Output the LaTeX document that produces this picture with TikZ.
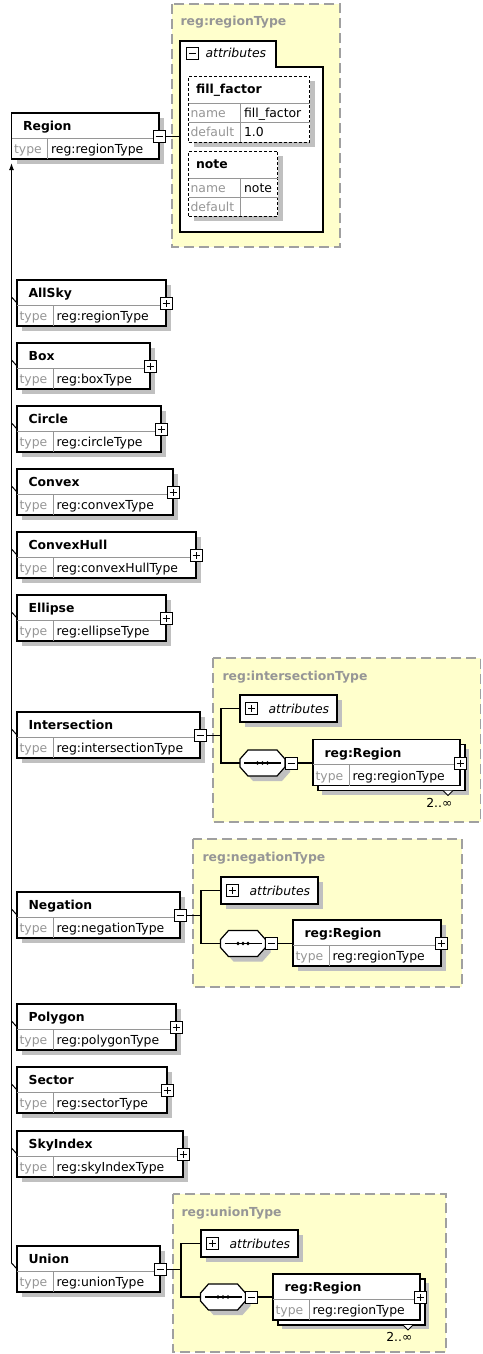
\documentclass[tikz,border=0pt]{standalone}
\usepackage{fontspec}
\setmainfont{DejaVu Sans}
\usetikzlibrary{arrows.meta,shadows}

\definecolor{typefill}{RGB}{255,255,204}
\definecolor{typeline}{RGB}{160,160,160}
\definecolor{shadowgray}{RGB}{192,192,192}
\definecolor{labelgray}{RGB}{150,150,150}
\definecolor{rowgray}{RGB}{150,150,150}

\tikzset{
  txt/.style={inner sep=0pt, anchor=base west, font=\fontsize{12.4}{14}\selectfont},
  ttl/.style={txt, font=\fontsize{12.4}{14}\selectfont\bfseries},
  lbl/.style={txt, text=labelgray},
  attl/.style={txt, font=\fontsize{12.4}{14}\selectfont\itshape},
  typelbl/.style={txt, font=\fontsize{12.4}{14}\selectfont\bfseries, text=labelgray},
  rowline/.style={draw=rowgray, line width=0.8pt},
  boxshadow/.style={general shadow={fill=shadowgray, shadow xshift=5pt, shadow yshift=-5pt}},
  elem/.style={draw, fill=white, line width=1.2pt, inner sep=0pt, outer sep=0pt,
    minimum height=46pt, anchor=north west, boxshadow},
  multi/.style={general shadow={fill=shadowgray, shadow xshift=9pt, shadow yshift=-9pt},
    general shadow={fill=white, draw=black, line width=1.2pt, shadow xshift=5pt, shadow yshift=-5pt}},
  attbox/.style={draw, dash pattern=on 3pt off 2pt, fill=white, line width=1pt,
    inner sep=0pt, outer sep=0pt, anchor=north west, boxshadow},
  attsmall/.style={draw, fill=white, line width=1.2pt, inner sep=0pt, outer sep=0pt,
    minimum width=97pt, minimum height=27pt, anchor=north west, boxshadow},
  typebox/.style={draw=typeline, fill=typefill, line width=1.2pt, dash pattern=on 10pt off 5pt},
  signbox/.style={draw, fill=white, line width=1pt, minimum size=12pt, inner sep=0pt},
  minus/.style={signbox, path picture={
    \draw[line width=1pt] ([xshift=2.5pt]path picture bounding box.west)
      -- ([xshift=-2.5pt]path picture bounding box.east);}},
  plus/.style={signbox, path picture={
    \draw[line width=1pt] ([xshift=2.5pt]path picture bounding box.west)
      -- ([xshift=-2.5pt]path picture bounding box.east)
      ([yshift=-2.5pt]path picture bounding box.north)
      -- ([yshift=2.5pt]path picture bounding box.south);}},
  seqbase/.style={minimum width=45pt, minimum height=26pt, inner sep=0pt, outer sep=0pt},
}

% element box: [extra options]{name}{north west}{width}{title}{type}
\newcommand{\xsdelem}[6][]{%
  \node[elem, minimum width=#4 pt, #1] (#2) at #3 {};
  \draw[rowline] ([yshift=-25pt]#2.north west) -- ([yshift=-25pt]#2.north east);
  \draw[rowline] ([xshift=36pt,yshift=-25pt]#2.north west) -- ([xshift=36pt]#2.south west);
  \node[ttl] at ([xshift=11pt,yshift=-17.5pt]#2.north west) {#5};
  \node[lbl] at ([xshift=2pt,yshift=-40.5pt]#2.north west) {type};
  \node[txt] at ([xshift=39pt,yshift=-40.5pt]#2.north west) {#6};
}

% sequence compositor: {name}{centre}
\newcommand{\seqnode}[2]{%
  \node[seqbase] (#1) at #2 {};
  \draw[fill=white, line width=1.2pt, boxshadow] ([yshift=4pt]#1.west)
    -- ([xshift=8pt]#1.north west) -- ([xshift=-8pt]#1.north east)
    -- ([yshift=4pt]#1.east) -- ([yshift=-4pt]#1.east)
    -- ([xshift=-8pt]#1.south east) -- ([xshift=8pt]#1.south west)
    -- ([yshift=-4pt]#1.west) -- cycle;
  \draw[line width=1.2pt] ([xshift=4pt]#1.west) -- ([xshift=-4pt]#1.east);
  \foreach \dx in {-5,0,5}
    \fill ([xshift=\dx pt]#1.center) circle (1.8pt);
}

\begin{document}
\begin{tikzpicture}[x=1pt, y=-1pt, line width=1.2pt]
\useasboundingbox (0,0) rectangle (482,1354);
\fill[white] (0,0) rectangle (482,1354);

% complex types
\draw[typebox] (172,4) rectangle (340,247);
\node[typelbl] at (180,26) {reg:regionType};
\draw[typebox] (213,658) rectangle (480.5,822);
\node[typelbl] at (222,680) {reg:intersectionType};
\draw[typebox] (193,839) rectangle (462,987);
\node[typelbl] at (202,861) {reg:negationType};
\draw[typebox] (173,1194) rectangle (446,1352);
\node[typelbl] at (181,1216) {reg:unionType};

% root element
\xsdelem{Region}{(11.5,113)}{147.5}{Region}{reg:regionType}
\node[minus] (sRegion) at ([yshift=-23.5pt]Region.north east) {};

% attributes of reg:regionType
\draw[line width=1.3pt, fill=white] (180,41) -- (276,41) -- (276,67) -- (323,67)
  -- (323,232) -- (180,232) -- cycle;
\node[minus] (sAttR) at (192.5,53.5) {};
\node[attl] at (205,58) {attributes};
\coordinate (attR) at (180,136.5);
\draw (sRegion) -- (attR);

\node[attbox, minimum width=121pt, minimum height=66pt] (aFill) at (188.5,76) {};
\draw[rowline] ([yshift=-27pt]aFill.north west) -- ([yshift=-27pt]aFill.north east);
\draw[rowline] ([yshift=-46.5pt]aFill.north west) -- ([yshift=-46.5pt]aFill.north east);
\draw[rowline] ([xshift=52pt,yshift=-27pt]aFill.north west) -- ([xshift=52pt]aFill.south west);
\node[ttl] at ([xshift=7pt,yshift=-17.5pt]aFill.north west) {fill\_factor};
\node[lbl] at ([xshift=1.5pt,yshift=-41pt]aFill.north west) {name};
\node[txt] at ([xshift=55pt,yshift=-41pt]aFill.north west) {fill\_factor};
\node[lbl] at ([xshift=1.5pt,yshift=-60pt]aFill.north west) {default};
\node[txt] at ([xshift=55pt,yshift=-60pt]aFill.north west) {1.0};

\node[attbox, minimum width=89pt, minimum height=65pt] (aNote) at (188.5,151) {};
\draw[rowline] ([yshift=-27pt]aNote.north west) -- ([yshift=-27pt]aNote.north east);
\draw[rowline] ([yshift=-46.5pt]aNote.north west) -- ([yshift=-46.5pt]aNote.north east);
\draw[rowline] ([xshift=52pt,yshift=-27pt]aNote.north west) -- ([xshift=52pt]aNote.south west);
\node[ttl] at ([xshift=7pt,yshift=-17.5pt]aNote.north west) {note};
\node[lbl] at ([xshift=1.5pt,yshift=-41pt]aNote.north west) {name};
\node[txt] at ([xshift=55pt,yshift=-41pt]aNote.north west) {note};
\node[lbl] at ([xshift=1.5pt,yshift=-60pt]aNote.north west) {default};

% choice of region elements
\foreach \id/\t/\w/\ty/\sg in {
    AllSky/280/149/regionType/plus,
    Box/343/133/boxType/plus,
    Circle/406/144/circleType/plus,
    Convex/469/156/convexType/plus,
    ConvexHull/532/179/convexHullType/plus,
    Ellipse/595/149/ellipseType/plus,
    Intersection/712/183/intersectionType/minus,
    Negation/892/163/negationType/minus,
    Polygon/1004/159/polygonType/plus,
    Sector/1067/150/sectorType/plus,
    SkyIndex/1131/166/skyIndexType/plus,
    Union/1246/143/unionType/minus}{
  \xsdelem{\id}{(17,\t)}{\w}{\id}{reg:\ty}
  \node[\sg] (s\id) at ([yshift=-23.5pt]\id.north east) {};
  \draw[line width=1pt] ([shift={(-5.5,17)}]\id.north west) -- ([yshift=-23pt]\id.north west);
}
\coordinate (spine) at (11.5,1263);
\draw[-{Latex[length=7pt,width=5pt]}, shorten >=4pt] (spine) -- (spine |- Region.south);

% reg:intersectionType
\coordinate (brI) at (221,735.5);
\node[attsmall] (atI) at (240,695) {};
\node[plus] (pAtI) at ([xshift=11.5pt]atI.west) {};
\node[attl] at ([xshift=28pt,yshift=-4.5pt]atI.west) {attributes};
\seqnode{qI}{(262.5,763)}
\node[minus] (mqI) at ([xshift=6pt]qI.east) {};
\xsdelem[multi]{rI}{(313,739.5)}{147}{reg:Region}{reg:regionType}
\node[plus] (prI) at ([yshift=-23.5pt]rI.north east) {};
\draw[fill=white, line width=1pt] ([xshift=-17pt,yshift=-5pt]rI.south east)
  -- ([xshift=-12pt,yshift=-10pt]rI.south east) -- ([xshift=-7pt,yshift=-5pt]rI.south east);
\node[txt, anchor=base east] at ([xshift=-7pt,yshift=-21.5pt]rI.south east) {2..∞};
\draw (sIntersection) -- (brI);
\draw (atI.west) -| (brI) |- (qI.west);
\draw (mqI) -- (mqI -| rI.west);

% reg:negationType
\coordinate (brN) at (201,915.5);
\node[attsmall] (atN) at (221,877) {};
\node[plus] (pAtN) at ([xshift=11.5pt]atN.west) {};
\node[attl] at ([xshift=28pt,yshift=-4.5pt]atN.west) {attributes};
\seqnode{qN}{(243,943.5)}
\node[minus] (mqN) at ([xshift=6pt]qN.east) {};
\xsdelem{rN}{(293,920)}{148}{reg:Region}{reg:regionType}
\node[plus] (prN) at ([yshift=-23.5pt]rN.north east) {};
\draw (sNegation) -- (brN);
\draw (atN.west) -| (brN) |- (qN.west);
\draw (mqN) -- (mqN -| rN.west);

% reg:unionType
\coordinate (brU) at (181,1269.5);
\node[attsmall] (atU) at (201,1230) {};
\node[plus] (pAtU) at ([xshift=11.5pt]atU.west) {};
\node[attl] at ([xshift=28pt,yshift=-4.5pt]atU.west) {attributes};
\seqnode{qU}{(223,1297)}
\node[minus] (mqU) at ([xshift=6pt]qU.east) {};
\xsdelem[multi]{rU}{(273,1274)}{147}{reg:Region}{reg:regionType}
\node[plus] (prU) at ([yshift=-23.5pt]rU.north east) {};
\draw[fill=white, line width=1pt] ([xshift=-17pt,yshift=-5pt]rU.south east)
  -- ([xshift=-12pt,yshift=-10pt]rU.south east) -- ([xshift=-7pt,yshift=-5pt]rU.south east);
\node[txt, anchor=base east] at ([xshift=-7pt,yshift=-21.5pt]rU.south east) {2..∞};
\draw (sUnion) -- (brU);
\draw (atU.west) -| (brU) |- (qU.west);
\draw (mqU) -- (mqU -| rU.west);
\end{tikzpicture}
\end{document}
